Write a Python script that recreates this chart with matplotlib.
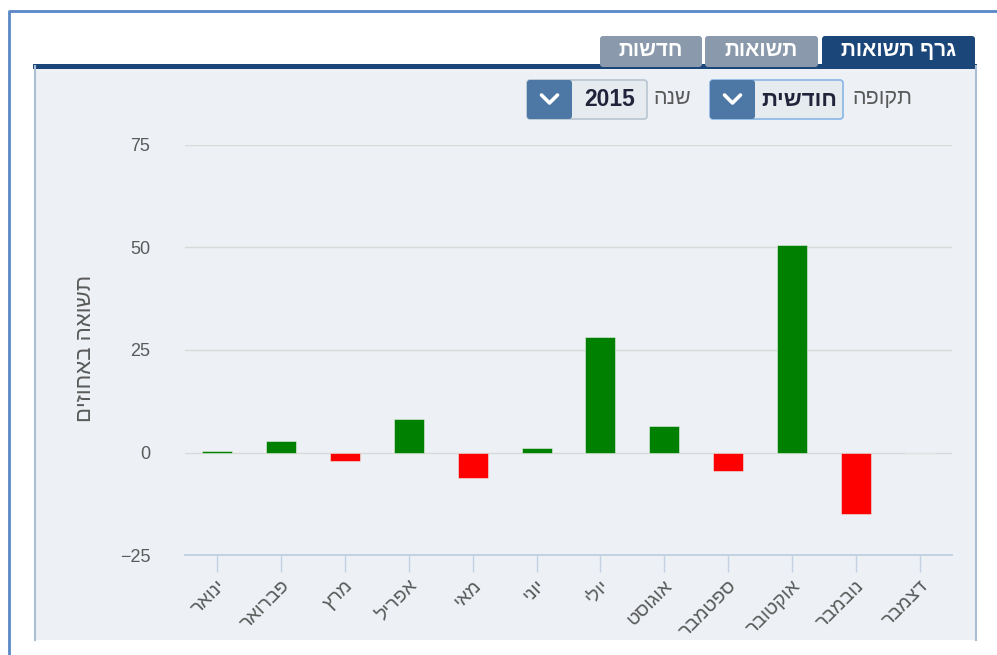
"""Monthly returns bar chart inside a Hebrew tabbed web widget."""
import matplotlib
matplotlib.use("Agg")
import matplotlib.pyplot as plt
from matplotlib.patches import Rectangle, FancyBboxPatch

months = ["ינואר", "פברואר", "מרץ", "אפריל", "מאי", "יוני",
          "יולי", "אוגוסט", "ספטמבר", "אוקטובר", "נובמבר", "דצמבר"]
returns = [0.4, 2.8, -2.0, 8.2, -6.1, 1.0, 28.2, 6.5, -4.6, 50.5, -15.0, 0.0]
y_ticks = [-25, 0, 25, 50, 75]
y_label = "תשואה באחוזים"
tabs = ["גרף תשואות", "תשואות", "חדשות"]
period_label, period_value = "תקופה", "חודשית"
year_label, year_value = "שנה", "2015"

FONT = ["Liberation Sans", "DejaVu Sans"]
plt.rcParams["font.family"] = FONT

NAVY = "#1b4679"
TAB_GREY = "#8a99ab"
PANEL = "#edf1f5"
FRAME = "#5b88c6"
TEXT = "#5a5a5a"
AXIS = "#c3d1e2"


def heb(s):
    # matplotlib has no bidi support: put RTL text in visual order
    return s[::-1]


W, H = 997, 655
fig = plt.figure(figsize=(W / 100, H / 100), dpi=100)
fig.patch.set_facecolor("white")

bg = fig.add_axes([0, 0, 1, 1])
bg.set_xlim(0, W)
bg.set_ylim(H, 0)
bg.axis("off")

# outer frame
bg.plot([9, 9, W], [H, 11, 11], color=FRAME, lw=2.0, solid_capstyle="butt")

# panel (side borders only, open at the bottom)
bg.add_patch(Rectangle((34, 66), 942, 574, facecolor=PANEL, edgecolor="none"))
bg.plot([34.5, 34.5], [66, 640], color="#a9bdd5", lw=1.5)
bg.plot([976, 976], [66, 640], color="#a9bdd5", lw=1.5)
bg.add_patch(Rectangle((33, 64), 944, 5, facecolor=NAVY, edgecolor="none"))

# tabs
tab_boxes = [(822, 975, NAVY), (705, 818, TAB_GREY), (600, 702, TAB_GREY)]
for name, (x0, x1, col) in zip(tabs, tab_boxes):
    bg.add_patch(FancyBboxPatch((x0, 36), x1 - x0, 31,
                                boxstyle="round,pad=0,rounding_size=3",
                                facecolor=col, edgecolor="none"))
    bg.text((x0 + x1) / 2, 50, heb(name), color="white", fontsize=15,
            fontweight="bold", ha="center", va="center")


def dropdown(x0, xb, x1, label_x, label, value, edge, size):
    bg.add_patch(FancyBboxPatch((x0, 80), x1 - x0, 39,
                                boxstyle="round,pad=0,rounding_size=3",
                                facecolor="#e6ebf0", edgecolor=edge, lw=1.2))
    bg.add_patch(FancyBboxPatch((x0, 80), xb - x0, 39,
                                boxstyle="round,pad=0,rounding_size=3",
                                facecolor="#4d78a6", edgecolor="none"))
    cx, cy = (x0 + xb) / 2, 99
    bg.plot([cx - 8, cx, cx + 8], [cy - 4, cy + 4, cy - 4], color="white",
            lw=2.6, solid_capstyle="round", solid_joinstyle="round")
    bg.text((xb + x1) / 2, 100, value, color="#22223a", fontsize=size,
            fontweight="bold", ha="center", va="center")
    bg.text(label_x, 99, heb(label), color=TEXT, fontsize=15.5,
            ha="center", va="center")


dropdown(710, 755, 843, 882, period_label, heb(period_value), "#86b6e6", 16)
dropdown(527, 572, 647, 672, year_label, year_value, "#b8c4d0", 16.5)

bg.text(85, 348, heb(y_label), color=TEXT, fontsize=16, rotation=90,
        ha="center", va="center")

# chart
ax = fig.add_axes([185 / W, (H - 555) / H, (952 - 185) / W, (555 - 145) / H])
ax.set_facecolor("none")
x = list(range(len(months)))
colors = ["#008000" if v >= 0 else "#ff0000" for v in returns]
ax.bar(x, returns, width=0.47, color=colors, edgecolor="#e8f0e8",
       linewidth=0.4, zorder=3)

ax.set_xlim(-0.5, len(months) - 0.5)
ax.set_ylim(-25, 75)
ax.set_yticks(y_ticks)
ax.set_xticks(x)
ax.set_xticklabels([heb(m) for m in months], rotation=45, ha="right",
                   rotation_mode="anchor", fontsize=14, color=TEXT)
ax.tick_params(axis="x", length=12, width=1, color=AXIS, pad=4)
ax.tick_params(axis="y", length=0, pad=25, labelsize=13, labelcolor=TEXT)
ax.yaxis.grid(True, color="#d9d9d9", lw=1, zorder=0)
for side in ["left", "right", "top"]:
    ax.spines[side].set_visible(False)
ax.spines["bottom"].set_color(AXIS)
ax.spines["bottom"].set_linewidth(1.4)
ax.spines["bottom"].set_zorder(4)

fig.savefig("out.png", dpi=100)
